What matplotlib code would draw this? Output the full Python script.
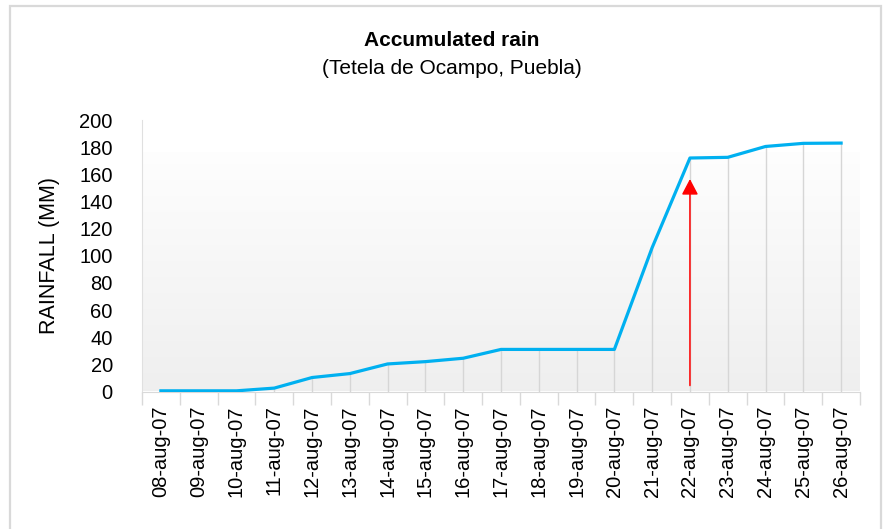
import numpy as np
import matplotlib.pyplot as plt
from matplotlib.patches import Rectangle

plt.rcParams['font.family'] = ['Liberation Sans', 'DejaVu Sans']

# daily accumulated rainfall, Tetela de Ocampo
dates = ['08-aug-07', '09-aug-07', '10-aug-07', '11-aug-07', '12-aug-07',
         '13-aug-07', '14-aug-07', '15-aug-07', '16-aug-07', '17-aug-07',
         '18-aug-07', '19-aug-07', '20-aug-07', '21-aug-07', '22-aug-07',
         '23-aug-07', '24-aug-07', '25-aug-07', '26-aug-07']
rain_mm = [0.5, 0.5, 0.5, 2.5, 10.3, 13.2, 20.3, 22.0, 24.5, 31.0,
           31.0, 31.0, 31.0, 106.0, 172.0, 172.5, 180.5, 182.8, 183.0]
yticks = [0, 20, 40, 60, 80, 100, 120, 140, 160, 180, 200]

# marker for the event day
event_idx = 14
event_from, event_to = 4.4, 156.5

fig = plt.figure(figsize=(8.85, 5.29), dpi=100)
ax = fig.add_axes([142 / 885, 1 - 391.5 / 529, 718 / 885, 271.5 / 529])

x = np.arange(len(dates))

# plot-area background gradient
grad = np.linspace(0, 1, 256).reshape(-1, 1)
c_top = np.array([0.995, 0.995, 0.995])
c_bot = np.array([0.937, 0.937, 0.937])
img = c_bot + (c_top - c_bot) * grad
ax.imshow(img[:, None, :].repeat(2, axis=1), extent=[-0.5, len(dates) - 0.5, 0, 176],
          origin='lower', aspect='auto', zorder=0)

# drop lines from each point
ax.vlines(x, 0, rain_mm, color='#d6d6d6', lw=1, zorder=1)
ax.plot(x, rain_mm, color='#00b0f0', lw=2.3, solid_joinstyle='round', zorder=3)

ax.annotate('', xy=(event_idx, event_to), xytext=(event_idx, event_from),
            arrowprops=dict(arrowstyle='-|>,head_length=0.95,head_width=0.5',
                            mutation_scale=10, color='red', lw=1.1,
                            shrinkA=0, shrinkB=0), zorder=4)

ax.set_xlim(-0.5, len(dates) - 0.5)
ax.set_ylim(0, 200)

ax.set_xticks(np.arange(len(dates) + 1) - 0.5)
ax.set_xticklabels([])
ax.set_xticks(x, minor=True)
ax.set_xticklabels(dates, minor=True, rotation=90, fontsize=14.5)
ax.tick_params(axis='x', which='major', length=9, color='#d9d9d9', width=1)
ax.tick_params(axis='x', which='minor', length=0, pad=10)

ax.set_yticks(yticks)
ax.tick_params(axis='y', length=0, pad=21, labelsize=14.5)

for side in ['top', 'right']:
    ax.spines[side].set_visible(False)
ax.spines['left'].set_color('#e0e0e0')
ax.spines['bottom'].set_color('#d9d9d9')

ax.set_ylabel('RAINFALL (MM)', fontsize=15.5, labelpad=14)

fig.text(452 / 885, 1 - 40 / 529, 'Accumulated rain', ha='center', va='center',
         fontsize=15, fontweight='bold')
fig.text(452 / 885, 1 - 69 / 529, '(Tetela de Ocampo, Puebla)', ha='center',
         va='center', fontsize=15)

# outer chart border (open at the bottom edge of the image)
fig.patches.append(Rectangle((10 / 885, -0.02), 871 / 885, 1.02 - 6 / 529,
                             transform=fig.transFigure, fill=False,
                             edgecolor='#d9d9d9', lw=1.6))

fig.savefig('out.png', dpi=100)
